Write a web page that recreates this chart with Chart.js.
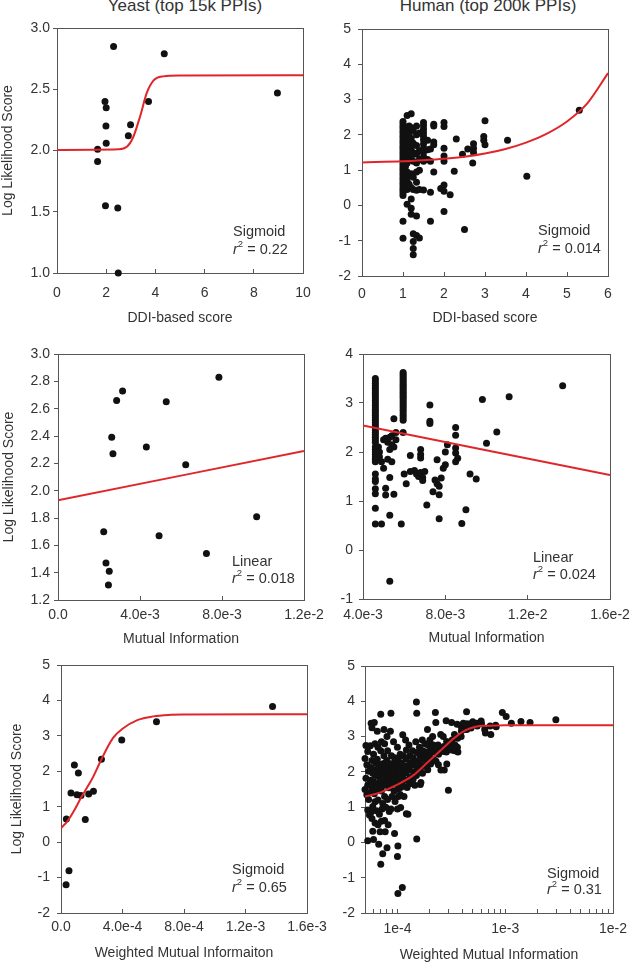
<!DOCTYPE html>
<html>
<head>
<meta charset="utf-8">
<script src="https://cdn.jsdelivr.net/npm/chart.js@4"></script>
<style>
body { margin: 0; background: #fff; }
#page { position: relative; width: 630px; height: 964px; overflow: hidden; }
#page canvas { position: absolute; }
.col-title {
    position: absolute; top: -4px; line-height: 20px; white-space: nowrap;
    font: 17px "Liberation Sans", Arial, sans-serif; color: #333;
    transform: translateX(-50%);
}
</style>
</head>
<body>
<div id="page">
    <div class="col-title" style="left:185px">Yeast (top 15k PPIs)</div>
    <div class="col-title" style="left:488px">Human (top 200k PPIs)</div>
</div>
<script>
// ---- Yeast, DDI-based score ----
const yeastDdiPoints = [
    [1.65, 2.01], [1.65, 1.91], [1.95, 2.40], [2.0, 2.35], [1.99, 2.20], [2.0, 2.06], [1.97, 1.55],
    [2.3, 2.85], [2.47, 1.53], [2.49, 1.00], [2.99, 2.21], [2.9, 2.12], [3.72, 2.40], [4.36, 2.79], [8.96, 2.47]
]
const yeastDdiFit = [
    [0, 2.005], [2.5, 2.01], [2.84, 2.03], [3.1, 2.11], [3.38, 2.28], [3.65, 2.47], [3.92, 2.57],
    [4.32, 2.605], [5, 2.613], [10, 2.615]
]
const yeastDdiXTicks = [0, 2, 4, 6, 8, 10]
const yeastDdiXLabels = ['0', '2', '4', '6', '8', '10']
const yeastDdiYTicks = [1.0, 1.5, 2.0, 2.5, 3.0]
const yeastDdiYLabels = ['1.0', '1.5', '2.0', '2.5', '3.0']

// ---- Human, DDI-based score (points grouped by x column) ----
const humanDdiColumns = [
    [1.0, [2.38, 2.31, 2.24, 2.17, 2.1, 2.03, 1.96, 1.89, 1.82, 1.75, 1.68, 1.61, 1.54, 1.47, 1.4, 1.33, 1.26,
           1.19, 1.12, 1.05, 0.98, 0.91, 0.84, 0.77, 0.7, 0.63, 0.56, 0.49, 0.42, 0.35, 0.28, -0.45, -0.93]],
    [1.06, [2.2, 1.95, 1.62, 1.1, 0.8, 0.5]],
    [1.1, [2.55, 2.1, 1.9, 1.72, 1.45, 1.2, 0.95, 0.7, 0.45, 0.03]],
    [1.15, [2.25, 2.02, 1.8, 1.55, 1.3, 0.85, 0.6]],
    [1.2, [2.6, 2.2, 1.9, 1.65, 1.38, 0.9, 0.5, 0.18, -0.08, -0.25]],
    [1.25, [2.12, 1.76, 1.5, 1.25, 0.8, 0.45, -0.8, -1.02, -1.22, -1.4]],
    [1.33, [2.25, 2.0, 1.7, 1.45, 1.2, 0.95, 0.66, 0.43, -0.3, -0.85]],
    [1.4, [2.05, 1.55, 1.3, 1.0, 0.45, -0.92]],
    [1.5, [2.35, 2.26, 2.16, 2.06, 1.96, 1.86, 1.74, 1.62, 1.5, 1.38, 1.25, 0.44]],
    [1.6, [1.85, 1.58, 1.3]],
    [1.67, [1.6, 1.25, 0.37, -0.45]],
    [1.75, [2.3, 2.25, 1.8, 1.72, 0.95]],
    [1.92, [0.48]],
    [2.0, [2.35, 2.24, 1.62, 1.4, 1.25, 0.58, 0.4, -0.17]],
    [2.15, [0.3]], [2.25, [0.97]], [2.3, [1.88]], [2.45, [1.45]], [2.5, [-0.68]], [2.58, [1.6]],
    [2.7, [1.2]], [2.72, [1.75, 1.62, 1.5]], [2.97, [1.95, 1.85]], [3.0, [2.4, 1.72]],
    [3.55, [1.85]], [4.02, [0.83]], [5.3, [2.7]]
]
const humanDdiFit = [
    [0, 1.22], [1, 1.25], [1.5, 1.28], [2, 1.32], [2.5, 1.38], [3, 1.47], [3.5, 1.6],
    [4, 1.78], [4.5, 2.03], [5, 2.38], [5.5, 2.9], [6, 3.75]
]
const humanDdiXTicks = [0, 1, 2, 3, 4, 5, 6]
const humanDdiXLabels = ['0', '1', '2', '3', '4', '5', '6']
const humanDdiYTicks = [-2, -1, 0, 1, 2, 3, 4, 5]
const humanDdiYLabels = ['-2', '-1', '0', '1', '2', '3', '4', '5']

// ---- Yeast, mutual information ----
const yeastMiPoints = [
    [0.00223, 1.70], [0.00234, 1.47], [0.00250, 1.41], [0.00246, 1.31], [0.00262, 2.39], [0.00268, 2.27],
    [0.00286, 2.66], [0.00315, 2.73], [0.00431, 2.32], [0.00493, 1.67], [0.00528, 2.65], [0.00623, 2.19],
    [0.00724, 1.54], [0.00785, 2.83], [0.00969, 1.81]
]
const yeastMiFit = [[0, 1.93], [0.012, 2.29]]
const yeastMiXTicks = [0, 0.004, 0.008, 0.012]
const yeastMiXLabels = ['0.0', '4.0e-3', '8.0e-3', '1.2e-2']
const yeastMiYTicks = [1.2, 1.4, 1.6, 1.8, 2.0, 2.2, 2.4, 2.6, 2.8, 3.0]
const yeastMiYLabels = ['1.2', '1.4', '1.6', '1.8', '2.0', '2.2', '2.4', '2.6', '2.8', '3.0']

// ---- Human, mutual information ----
const humanMiColumns = [
    [0.0046, [3.5, 3.45, 3.4, 3.35, 3.3, 3.25, 3.2, 3.15, 3.1, 3.05, 3.0, 2.95, 2.9, 2.85, 2.8, 2.75, 2.7,
              2.65, 2.6, 2.55, 2.5, 2.45, 2.4, 2.35, 2.3, 2.25, 2.2, 2.1, 2.05, 2.0, 1.95, 1.9, 1.85, 1.8,
              1.55, 1.45, 1.4, 1.25, 1.15, 0.85, 0.53]],
    [0.00595, [3.62, 3.58, 3.54, 3.5, 3.46, 3.42, 3.38, 3.34, 3.3, 3.26, 3.22, 3.18, 3.14, 3.1, 3.06, 3.02,
               2.98, 2.94, 2.9, 2.85, 2.8, 2.75, 2.7, 2.65, 2.4]]
]
const humanMiPoints = [
    [0.0049, 0.53], [0.00475, 2.1], [0.0048, 2.0], [0.0048, 1.9], [0.0049, 1.8], [0.0050, 1.67], [0.0050, 2.25],
    [0.0051, 2.28], [0.0052, 2.2], [0.0053, 2.3], [0.0054, 2.33], [0.0054, 2.15], [0.0053, 2.05], [0.0055, 2.1],
    [0.0052, 1.85], [0.0054, 1.8], [0.0053, 1.48], [0.0051, 1.26], [0.0051, 1.12], [0.0055, 1.14], [0.0053, 0.71],
    [0.0053, -0.64], [0.0055, 2.68], [0.0056, 2.25], [0.0056, 2.4], [0.00586, 0.53], [0.0060, 1.55], [0.0061, 1.35],
    [0.0063, 1.93], [0.0063, 1.6], [0.0065, 1.62], [0.0066, 1.55], [0.0067, 1.5], [0.0068, 1.58], [0.0069, 1.48],
    [0.0070, 1.6], [0.0068, 2.05], [0.0068, 1.95], [0.0068, 1.88], [0.0069, 1.42], [0.0071, 0.92], [0.00725, 2.96],
    [0.00725, 2.63], [0.00725, 2.58], [0.0074, 1.19], [0.0075, 1.43], [0.0076, 1.35], [0.0077, 1.3], [0.0077, 1.13],
    [0.0076, 1.84], [0.0077, 0.64], [0.0078, 1.47], [0.0079, 1.67], [0.0080, 1.74], [0.0080, 2.0], [0.0081, 2.15],
    [0.0085, 2.5], [0.0085, 2.34], [0.0085, 2.08], [0.0085, 1.98], [0.0086, 1.87], [0.0085, 1.8], [0.0088, 0.54],
    [0.0090, 0.82], [0.0092, 1.55], [0.0095, 1.45], [0.0098, 3.07], [0.0100, 2.18], [0.0105, 2.41], [0.0111, 3.13],
    [0.0137, 3.35]
]
const humanMiFit = [[0.004, 2.54], [0.016, 1.53]]
const humanMiXTicks = [0.004, 0.008, 0.012, 0.016]
const humanMiXLabels = ['4.0e-3', '8.0e-3', '1.2e-2', '1.6e-2']
const humanMiYTicks = [-1, 0, 1, 2, 3, 4]
const humanMiYLabels = ['-1', '0', '1', '2', '3', '4']

// ---- Yeast, weighted mutual information ----
const yeastWmiPoints = [
    [0.000033, -1.20], [0.000052, -0.81], [0.000035, 0.65], [0.000065, 1.39], [0.000087, 2.18], [0.000113, 1.95],
    [0.000104, 1.34], [0.000130, 1.32], [0.000158, 0.64], [0.000180, 1.36], [0.000211, 1.44], [0.000263, 2.34],
    [0.000395, 2.88], [0.000621, 3.40], [0.001376, 3.83]
]
const yeastWmiFit = [
    [0, 0.40], [0.00004, 0.58], [0.00008, 0.85], [0.00013, 1.25], [0.00018, 1.62], [0.00021, 1.85],
    [0.00025, 2.22], [0.0003, 2.66], [0.00034, 2.95], [0.0004, 3.2], [0.0005, 3.45], [0.0006, 3.55],
    [0.0007, 3.59], [0.0008, 3.6], [0.0016, 3.61]
]
const yeastWmiXTicks = [0, 0.0004, 0.0008, 0.0012, 0.0016]
const yeastWmiXLabels = ['0.0', '4.0e-4', '8.0e-4', '1.2e-3', '1.6e-3']
const yeastWmiYTicks = [-2, -1, 0, 1, 2, 3, 4, 5]
const yeastWmiYLabels = ['-2', '-1', '0', '1', '2', '3', '4', '5']

// ---- Human, weighted mutual information (log x) ----
const humanWmiPoints = [
    [5.1e-5, 2.75], [5.3e-5, 2.58], [5.0e-5, 2.38], [5.2e-5, 2.2], [5.4e-5, 2.02], [5.1e-5, 1.82], [5.3e-5, 1.62],
    [5.0e-5, 1.5], [5.2e-5, 1.35], [5.4e-5, 1.22], [5.3e-5, 0.92], [5.5e-5, 0.78], [5.3e-5, 0.05],
    [5.7e-5, 3.38], [5.8e-5, 3.25], [5.6e-5, 2.74], [5.8e-5, 2.32], [5.7e-5, 2.12], [5.9e-5, 1.96], [5.6e-5, 1.76],
    [5.8e-5, 1.58], [5.7e-5, 1.44], [5.9e-5, 1.02], [5.7e-5, 0.86], [5.8e-5, 0.68], [5.9e-5, 0.32],
    [6.1e-5, 3.4], [6.2e-5, 2.8], [6.0e-5, 2.5], [6.3e-5, 2.26], [6.1e-5, 2.06], [6.2e-5, 1.9], [6.0e-5, 1.72],
    [6.3e-5, 1.55], [6.1e-5, 1.38], [6.2e-5, 1.15], [6.4e-5, 0.9], [6.2e-5, 0.55], [6.0e-5, 0.08],
    [6.5e-5, 3.15], [6.6e-5, 2.7], [6.5e-5, 2.36], [6.7e-5, 2.16], [6.6e-5, 2.0], [6.8e-5, 1.84], [6.5e-5, 1.66],
    [6.7e-5, 1.5], [6.6e-5, 1.2], [6.8e-5, 0.8], [6.6e-5, 0.5], [6.9e-5, 0.3], [6.7e-5, -0.05],
    [7.0e-5, 3.63], [7.1e-5, 2.85], [7.0e-5, 2.6], [7.2e-5, 2.22], [7.1e-5, 2.06], [7.3e-5, 1.9], [7.0e-5, 1.76],
    [7.2e-5, 1.6], [7.1e-5, 1.46], [7.3e-5, 1.1], [7.2e-5, 0.95], [7.1e-5, 0.6], [7.3e-5, -0.32], [7.0e-5, -0.62],
    [7.5e-5, 3.2], [7.6e-5, 2.8], [7.5e-5, 2.46], [7.7e-5, 2.26], [7.6e-5, 2.1], [7.8e-5, 1.96], [7.5e-5, 1.8],
    [7.7e-5, 1.64], [7.6e-5, 1.3], [7.8e-5, 1.0], [7.6e-5, 0.62], [7.7e-5, 0.3],
    [8.0e-5, 3.0], [8.1e-5, 2.6], [8.0e-5, 2.32], [8.3e-5, 2.16], [8.1e-5, 2.0], [8.2e-5, 1.86], [8.0e-5, 1.7],
    [8.3e-5, 1.55], [8.1e-5, 1.22], [8.4e-5, 0.88], [8.2e-5, 0.5], [8.0e-5, -0.15],
    [8.7e-5, 3.66], [8.6e-5, 3.15], [8.8e-5, 2.46], [8.6e-5, 2.22], [8.9e-5, 2.06], [8.7e-5, 1.9], [8.8e-5, 1.76],
    [8.6e-5, 1.6], [8.9e-5, 1.3], [8.7e-5, 0.95],
    [9.2e-5, 2.85], [9.4e-5, 2.4], [9.3e-5, 2.26], [9.5e-5, 2.1], [9.2e-5, 1.96], [9.4e-5, 1.8], [9.6e-5, 1.66],
    [9.3e-5, 1.46], [9.5e-5, 1.16], [9.4e-5, 0.25],
    [1.0e-4, 2.7], [1.01e-4, 2.36], [9.9e-5, 2.16], [1.02e-4, 2.0], [1.0e-4, 1.86], [1.03e-4, 1.7], [1.01e-4, 1.52],
    [1.02e-4, 1.3], [1.0e-4, 0.95], [1.01e-4, -0.1], [1.0e-4, -0.4], [1.01e-4, -1.45],
    [1.06e-4, 2.5], [1.07e-4, 2.26], [1.08e-4, 2.1], [1.06e-4, 1.95], [1.08e-4, 1.76], [1.07e-4, 1.56],
    [1.06e-4, 1.36], [1.07e-4, 0.99],
    [1.12e-4, 3.05], [1.13e-4, 2.46], [1.11e-4, 2.2], [1.14e-4, 2.0], [1.12e-4, 1.82], [1.13e-4, 1.6],
    [1.15e-4, 1.3], [1.11e-4, -1.28],
    [1.19e-4, 2.9], [1.21e-4, 2.62], [1.2e-4, 2.36], [1.22e-4, 2.16], [1.19e-4, 1.96], [1.21e-4, 1.76],
    [1.23e-4, 1.56], [1.21e-4, 0.81],
    [1.28e-4, 2.76], [1.3e-4, 2.46], [1.31e-4, 2.26], [1.29e-4, 2.06], [1.32e-4, 1.86], [1.3e-4, 1.66], [1.25e-4, 0.8],
    [1.38e-4, 2.6], [1.4e-4, 2.4], [1.39e-4, 2.2], [1.42e-4, 2.0], [1.4e-4, 1.8], [1.45e-4, 1.62],
    [1.5e-4, 3.98], [1.51e-4, 3.66], [1.48e-4, 2.85], [1.52e-4, 2.55], [1.49e-4, 2.3], [1.53e-4, 2.1],
    [1.5e-4, 1.9], [1.51e-4, 0.1],
    [1.6e-4, 2.7], [1.62e-4, 2.46], [1.59e-4, 2.26], [1.61e-4, 2.06], [1.63e-4, 1.64], [1.65e-4, 1.7],
    [1.7e-4, 2.9], [1.72e-4, 2.6], [1.69e-4, 2.36], [1.73e-4, 2.16], [1.71e-4, 1.96],
    [1.8e-4, 2.8], [1.82e-4, 2.56], [1.79e-4, 2.4], [1.83e-4, 2.2],
    [1.9e-4, 3.2], [1.92e-4, 2.76], [1.89e-4, 2.5], [1.93e-4, 2.3], [1.91e-4, 2.06],
    [2.0e-4, 2.9], [2.02e-4, 2.62], [1.99e-4, 2.42], [2.03e-4, 2.22],
    [2.12e-4, 3.0], [2.15e-4, 2.76], [2.13e-4, 2.56], [2.16e-4, 2.36],
    [2.25e-4, 3.68], [2.27e-4, 3.4], [2.24e-4, 2.62], [2.28e-4, 2.3],
    [2.38e-4, 2.76], [2.41e-4, 2.5], [2.4e-4, 2.2],
    [2.52e-4, 3.06], [2.55e-4, 2.66], [2.53e-4, 2.05],
    [2.66e-4, 3.0], [2.7e-4, 2.72], [2.68e-4, 2.58], [2.72e-4, 2.05],
    [2.83e-4, 3.45], [2.86e-4, 2.86], [2.84e-4, 2.56], [2.87e-4, 2.22],
    [2.97e-4, 2.62], [3.02e-4, 2.76], [2.97e-4, 1.48],
    [3.18e-4, 3.4], [3.22e-4, 2.9], [3.2e-4, 2.62],
    [3.38e-4, 3.06], [3.42e-4, 2.76], [3.4e-4, 2.6],
    [3.58e-4, 3.35], [3.62e-4, 2.95], [3.6e-4, 2.7], [3.64e-4, 2.56],
    [3.88e-4, 3.3], [3.92e-4, 3.16], [3.9e-4, 3.0],
    [4.08e-4, 3.38], [4.12e-4, 3.2],
    [4.38e-4, 3.7], [4.42e-4, 3.36], [4.4e-4, 3.2],
    [4.78e-4, 3.36], [4.82e-4, 3.24], [5.0e-4, 3.42],
    [5.45e-4, 3.38], [5.5e-4, 3.3], [5.98e-4, 3.44], [6.02e-4, 3.36],
    [6.45e-4, 3.2], [6.55e-4, 3.1], [7.25e-4, 3.3], [7.35e-4, 3.06],
    [8.15e-4, 3.32], [8.25e-4, 3.28],
    [9.4e-4, 3.68], [1.02e-3, 3.57], [1.14e-3, 3.38], [1.4e-3, 3.43], [1.7e-3, 3.4], [2.95e-3, 3.48]
]
const humanWmiFit = [
    [5e-5, 1.3], [7e-5, 1.42], [9.4e-5, 1.6], [1.4e-4, 1.9], [1.92e-4, 2.28], [2.6e-4, 2.65], [3.4e-4, 2.97],
    [4.3e-4, 3.18], [5.3e-4, 3.28], [7e-4, 3.31], [1e-3, 3.32], [1e-2, 3.32]
]
const humanWmiXTicks = [
    5e-5, 6e-5, 7e-5, 8e-5, 9e-5,
    1e-4, 2e-4, 3e-4, 4e-4, 5e-4, 6e-4, 7e-4, 8e-4, 9e-4,
    1e-3, 2e-3, 3e-3, 4e-3, 5e-3, 6e-3, 7e-3, 8e-3, 9e-3, 1e-2
]
const humanWmiXLabels = [
    '', '', '', '', '',
    '1e-4', '', '', '', '', '', '', '', '',
    '1e-3', '', '', '', '', '', '', '', '', '1e-2'
]
const humanWmiYTicks = [-2, -1, 0, 1, 2, 3, 4, 5]
const humanWmiYLabels = ['-2', '-1', '0', '1', '2', '3', '4', '5']

const FONT = '"Liberation Sans", Arial, sans-serif'
const TEXT = '#333'
const AXIS = '#555'
const RED = '#e0262b'
const DOT = '#111'

// x ticks point into the plot, y ticks point out of it
const X_TICK = -4
const Y_TICK = 4

const toXY = pairs => pairs.map(([x, y]) => ({ x, y }))
const columnsToXY = columns => columns.flatMap(([x, ys]) => ys.map(y => ({ x, y })))

// Box round the plot area (the axes only give left/bottom)
const framePlugin = {
    id: 'frame',
    beforeDatasetsDraw(chart) {
        const { ctx, chartArea: a } = chart
        ctx.save()
        ctx.strokeStyle = AXIS
        ctx.lineWidth = 1
        ctx.strokeRect(Math.round(a.left) + 0.5, Math.round(a.top) + 0.5,
            Math.round(a.right - a.left), Math.round(a.bottom - a.top))
        ctx.restore()
    }
}

// "Sigmoid / r2 = ..." note in the lower right corner
const notePlugin = {
    id: 'fitNote',
    afterDraw(chart, args, opts) {
        if (!opts || !opts.model) return
        const { ctx, chartArea } = chart
        const x = chartArea.right - opts.dx
        const y1 = chartArea.bottom - opts.dy1
        const y2 = chartArea.bottom - opts.dy2
        ctx.save()
        ctx.fillStyle = TEXT
        ctx.textAlign = 'left'
        ctx.textBaseline = 'middle'
        ctx.font = `14.5px ${FONT}`
        ctx.fillText(opts.model, x, y1)
        ctx.font = `italic 14.5px ${FONT}`
        ctx.fillText('r', x, y2)
        let cx = x + ctx.measureText('r').width
        ctx.font = `9.5px ${FONT}`
        ctx.fillText('2', cx, y2 - 6)
        cx += ctx.measureText('2').width
        ctx.font = `14.5px ${FONT}`
        ctx.fillText(' = ' + opts.r2, cx, y2)
        ctx.restore()
    }
}

function axisOptions(ax, tickLength, extra) {
    return Object.assign({
        type: ax.type || 'linear',
        min: ax.min,
        max: ax.max,
        afterBuildTicks: scale => { scale.ticks = ax.ticks.map(value => ({ value })) },
        ticks: {
            callback: (value, index) => ax.labels[index],
            autoSkip: false,
            maxRotation: 0,
            minRotation: 0,
            padding: ax.pad,
            color: TEXT,
            font: { family: FONT, size: 14 }
        },
        grid: { display: true, drawOnChartArea: false, drawTicks: true, tickLength, color: AXIS, lineWidth: 1 },
        border: { display: false },
        title: {
            display: !!ax.title,
            text: ax.title,
            color: TEXT,
            padding: 0,
            font: { family: FONT, size: 14 }
        }
    }, extra)
}

function drawPanel(p) {
    const canvas = document.createElement('canvas')
    canvas.width = p.box.w
    canvas.height = p.box.h
    canvas.style.left = p.box.x + 'px'
    canvas.style.top = p.box.y + 'px'
    canvas.style.width = p.box.w + 'px'
    canvas.style.height = p.box.h + 'px'
    document.getElementById('page').appendChild(canvas)

    const titleBottom = p.xTitleY + 8.4
    const padLeft = p.y.title ? p.yTitleX - 8.4 : 0
    const yWidth = p.area.left - p.box.x - padLeft
    const xHeight = titleBottom - p.area.bottom

    // label gaps were measured from the axis line, so take the tick length back out
    const xAxis = Object.assign({}, p.x, { pad: p.x.gap - X_TICK })
    const yAxis = Object.assign({}, p.y, { pad: p.y.gap - Y_TICK })

    return new Chart(canvas, {
        type: 'scatter',
        data: {
            datasets: [{
                type: 'line',
                data: p.fit,
                borderColor: RED,
                borderWidth: 2,
                pointRadius: 0,
                cubicInterpolationMode: 'monotone',
                order: 0
            }, {
                data: p.points,
                backgroundColor: DOT,
                borderWidth: 0,
                pointRadius: 3.5,
                clip: false,
                order: 1
            }]
        },
        options: {
            responsive: false,
            animation: false,
            devicePixelRatio: 1,
            events: [],
            layout: {
                padding: {
                    left: padLeft,
                    top: p.area.top - p.box.y,
                    right: p.box.x + p.box.w - p.area.right,
                    bottom: p.box.y + p.box.h - titleBottom
                }
            },
            scales: {
                x: axisOptions(xAxis, X_TICK, { afterFit: scale => { scale.height = xHeight } }),
                y: axisOptions(yAxis, Y_TICK, { afterFit: scale => { scale.width = yWidth } })
            },
            plugins: {
                legend: { display: false },
                tooltip: { enabled: false },
                fitNote: p.note
            }
        },
        plugins: [framePlugin, notePlugin]
    })
}

// canvases overlap their neighbours so edge tick labels never squeeze the plot area
const panels = [
    {
        box: { x: 0, y: 0, w: 360, h: 330 }, area: { left: 57, right: 303, top: 28, bottom: 273 },
        xTitleY: 318, yTitleX: 8.4,
        points: toXY(yeastDdiPoints), fit: toXY(yeastDdiFit),
        x: { min: 0, max: 10, ticks: yeastDdiXTicks, labels: yeastDdiXLabels, gap: 12, title: 'DDI-based score' },
        y: { min: 1, max: 3, ticks: yeastDdiYTicks, labels: yeastDdiYLabels, gap: 7, title: 'Log Likelihood Score' },
        note: { model: 'Sigmoid', r2: '0.22', dx: 70, dy1: 41, dy2: 23 }
    },
    {
        box: { x: 315, y: 0, w: 350, h: 330 }, area: { left: 362, right: 608, top: 29, bottom: 276 },
        xTitleY: 318,
        points: columnsToXY(humanDdiColumns), fit: toXY(humanDdiFit),
        x: { min: 0, max: 6, ticks: humanDdiXTicks, labels: humanDdiXLabels, gap: 10, title: 'DDI-based score' },
        y: { min: -2, max: 5, ticks: humanDdiYTicks, labels: humanDdiYLabels, gap: 11 },
        note: { model: 'Sigmoid', r2: '0.014', dx: 70, dy1: 45, dy2: 27 }
    },
    {
        box: { x: 0, y: 330, w: 360, h: 320 }, area: { left: 58, right: 304, top: 354, bottom: 600 },
        xTitleY: 639, yTitleX: 9.2,
        points: toXY(yeastMiPoints), fit: toXY(yeastMiFit),
        x: { min: 0, max: 0.012, ticks: yeastMiXTicks, labels: yeastMiXLabels, gap: 7, title: 'Mutual Information' },
        y: { min: 1.2, max: 3.0, ticks: yeastMiYTicks, labels: yeastMiYLabels, gap: 8, title: 'Log Likelihood Score' },
        note: { model: 'Linear', r2: '0.018', dx: 72, dy1: 38, dy2: 21 }
    },
    {
        box: { x: 315, y: 330, w: 350, h: 320 }, area: { left: 363, right: 610, top: 354, bottom: 599 },
        xTitleY: 638,
        points: columnsToXY(humanMiColumns).concat(toXY(humanMiPoints)), fit: toXY(humanMiFit),
        x: { min: 0.004, max: 0.016, ticks: humanMiXTicks, labels: humanMiXLabels, gap: 8, title: 'Mutual Information' },
        y: { min: -1, max: 4, ticks: humanMiYTicks, labels: humanMiYLabels, gap: 10 },
        note: { model: 'Linear', r2: '0.024', dx: 77, dy1: 41, dy2: 24 }
    },
    {
        box: { x: 0, y: 640, w: 360, h: 324 }, area: { left: 61, right: 307, top: 665, bottom: 913 },
        xTitleY: 953, yTitleX: 17.5,
        points: toXY(yeastWmiPoints), fit: toXY(yeastWmiFit),
        x: { min: 0, max: 0.0016, ticks: yeastWmiXTicks, labels: yeastWmiXLabels, gap: 6, title: 'Weighted Mutual Informaiton' },
        y: { min: -2, max: 5, ticks: yeastWmiYTicks, labels: yeastWmiYLabels, gap: 11, title: 'Log Likelihood Score' },
        note: { model: 'Sigmoid', r2: '0.65', dx: 75, dy1: 43, dy2: 25 }
    },
    {
        box: { x: 315, y: 640, w: 350, h: 324 }, area: { left: 365, right: 613, top: 666, bottom: 913 },
        xTitleY: 955,
        points: toXY(humanWmiPoints), fit: toXY(humanWmiFit),
        x: { type: 'logarithmic', min: 5e-5, max: 1e-2, ticks: humanWmiXTicks, labels: humanWmiXLabels, gap: 8, title: 'Weighted Mutual Information' },
        y: { min: -2, max: 5, ticks: humanWmiYTicks, labels: humanWmiYLabels, gap: 10 },
        note: { model: 'Sigmoid', r2: '0.31', dx: 66, dy1: 39, dy2: 23 }
    }
]

panels.forEach(drawPanel)
</script>
</body>
</html>
